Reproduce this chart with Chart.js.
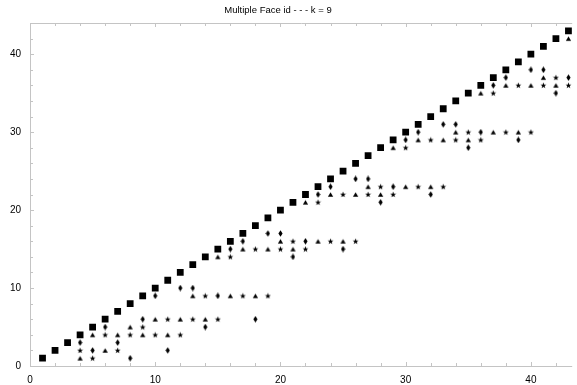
<!DOCTYPE html>
<html>
<head>
<meta charset="utf-8">
<script src="https://cdn.jsdelivr.net/npm/chart.js@4"></script>
<style>
html,body{margin:0;padding:0;background:#fff;}
#wrap{width:577px;height:385px;position:relative;}
</style>
</head>
<body>
<div id="wrap"><canvas id="c" width="577" height="385"></canvas></div>
<script>
const chartTitle = "Multiple Face id - - - k = 9";
const xTickLabels = [0, 10, 20, 30, 40];
const yTickLabels = [0, 10, 20, 30, 40];

// Series 1: squares
const squareX = [1,2,3,4,5,6,7,8,9,10,11,12,13,14,15,16,17,18,19,20,21,22,23,24,25,26,27,28,29,30,31,32,33,34,35,36,37,38,39,40,41,42,43];
const squareY = [1,2,3,4,5,6,7,8,9,10,11,12,13,14,15,16,17,18,19,20,21,22,23,24,25,26,27,28,29,30,31,32,33,34,35,36,37,38,39,40,41,42,43];

// Series 2: triangles
const triangleX = [4,6,5,7,9,11, 8,10,12,14,13,16,18, 15,17,19,21,20,23,25, 22,24,26,28,27,30,32, 29,31,33,35,34,37,39, 36,38,40,42,41, 43];
const triangleY = [1,2,4,4,4,4, 5,6,6,6,9,9,9, 14,15,15,15,16,16,16, 21,22,22,22,23,23,23, 28,29,29,29,30,30,30, 35,36,36,36,37, 42];

// Series 3: stars
const starX = [5,4,7,6,8,10,12, 9,11,13,15,14,17,19, 16,18,20,22,21,24,26, 23,25,27,29,28,31,33, 30,32,34,36,35,38,40, 37,39,41,43,42];
const starY = [1,2,2,4,4,4,4, 5,6,6,6,9,9,9, 14,15,15,15,16,16,16, 21,22,22,22,23,23,23, 28,29,29,29,30,30,30, 35,36,36,36,37];

// Series 4: diamonds
const diamondX = [8,5,11,4,7,6, 14,9,18,10,15,12,13, 21,16,25,17,22,19,20, 28,23,32,24,29,26,27, 35,30,39,31,36,33,34, 42,37,38,43,40,41];
const diamondY = [1,2,2,3,3,5, 5,6,6,9,9,10,10, 14,15,15,16,16,17,17, 21,22,22,23,23,24,24, 28,29,29,30,30,31,31, 35,36,37,37,38,38];

function pts(xs, ys){ return xs.map((x,i)=>({x:x, y:ys[i]})); }

function makeStar(){
  const c = document.createElement('canvas'); c.width = 7; c.height = 7;
  const g = c.getContext('2d'); g.fillStyle = '#000'; g.beginPath();
  const cx = 3.5, cy = 3.7, R = 3.1, r = 1.3;
  for (let i = 0; i < 10; i++) {
    const a = -Math.PI/2 + i*Math.PI/5; const rr = i%2===0 ? R : r;
    const px = cx + rr*Math.cos(a), py = cy + rr*Math.sin(a);
    if (i===0) g.moveTo(px,py); else g.lineTo(px,py);
  }
  g.closePath(); g.fill(); return c;
}
function makeDiamond(){
  const c = document.createElement('canvas'); c.width = 5; c.height = 7;
  const g = c.getContext('2d'); g.fillStyle = '#000'; g.beginPath();
  g.moveTo(2.5,0.3); g.lineTo(4.6,3.5); g.lineTo(2.5,6.7); g.lineTo(0.4,3.5); g.closePath(); g.fill();
  return c;
}
function makeTriangle(){
  const c = document.createElement('canvas'); c.width = 7; c.height = 7;
  const g = c.getContext('2d'); g.fillStyle = '#000'; g.beginPath();
  g.moveTo(3.5,1.3); g.lineTo(6.1,5.7); g.lineTo(0.9,5.7); g.closePath(); g.fill();
  return c;
}

const framePlugin = {
  id: 'frame',
  afterDraw(chart){
    const ctx = chart.ctx, a = chart.chartArea;
    const xs = chart.scales.x, ys = chart.scales.y;
    ctx.save();
    ctx.strokeStyle = '#c4c4c4'; ctx.lineWidth = 1;
    ctx.beginPath();
    ctx.moveTo(a.left+0.5, a.bottom+0.5); ctx.lineTo(a.left+0.5, a.top+0.5); ctx.lineTo(a.right, a.top+0.5);
    ctx.moveTo(a.left+0.5, a.bottom+0.5); ctx.lineTo(a.right, a.bottom+0.5);
    xs.ticks.forEach(t => {
      const p = Math.round(xs.getPixelForValue(t.value)) + 0.5;
      const L = (t.value % 10 === 0) ? 4 : 3;
      ctx.moveTo(p, a.bottom); ctx.lineTo(p, a.bottom - L);
      ctx.moveTo(p, a.top); ctx.lineTo(p, a.top + L);
    });
    ys.ticks.forEach(t => {
      const p = Math.round(ys.getPixelForValue(t.value)) + 0.5;
      const L = (t.value % 10 === 0) ? 4 : 3;
      ctx.moveTo(a.left, p); ctx.lineTo(a.left + L, p);
    });
    ctx.stroke();
    ctx.fillStyle = '#000';
    ctx.font = '9.5px "Liberation Sans", Arial, sans-serif';
    ctx.textAlign = 'center'; ctx.textBaseline = 'middle';
    ctx.fillText(chartTitle, 278, 10);
    ctx.restore();
  }
};

new Chart(document.getElementById('c'), {
  type: 'scatter',
  data: {
    datasets: [
      { label: 'squares', data: pts(squareX, squareY), pointStyle: 'rect', pointRadius: 4.8, borderWidth: 0, backgroundColor: '#000', borderColor: '#000' },
      { label: 'triangles', data: pts(triangleX, triangleY), pointStyle: makeTriangle(), pointRadius: 3, borderWidth: 0, backgroundColor: '#000' },
      { label: 'stars', data: pts(starX, starY), pointStyle: makeStar(), pointRadius: 3, borderWidth: 0, backgroundColor: '#000' },
      { label: 'diamonds', data: pts(diamondX, diamondY), pointStyle: makeDiamond(), pointRadius: 3, borderWidth: 0, backgroundColor: '#000' }
    ]
  },
  options: {
    responsive: false,
    animation: false,
    events: [],
    layout: { padding: { top: 23, right: 0, left: 0, bottom: 0 } },
    plugins: { legend: { display: false }, tooltip: { enabled: false }, title: { display: false } },
    scales: {
      x: {
        type: 'linear', min: 0, max: 43.3,
        grid: { display: false, drawTicks: false },
        border: { display: false },
        afterFit(s){ s.height = 19; },
        ticks: {
          stepSize: 2, autoSkip: false, includeBounds: false, maxRotation: 0, padding: 8,
          color: '#000', font: { family: '"Liberation Sans", Arial, sans-serif', size: 10 },
          callback: v => (xTickLabels.includes(v) ? String(v) : '')
        }
      },
      y: {
        type: 'linear', min: 0, max: 44,
        grid: { display: false, drawTicks: false },
        border: { display: false },
        afterFit(s){ s.width = 30; },
        ticks: {
          stepSize: 2, autoSkip: false, includeBounds: false, padding: 9,
          color: '#000', font: { family: '"Liberation Sans", Arial, sans-serif', size: 10 },
          callback: v => (yTickLabels.includes(v) ? String(v) : '')
        }
      }
    }
  },
  plugins: [framePlugin]
});
</script>
</body>
</html>
